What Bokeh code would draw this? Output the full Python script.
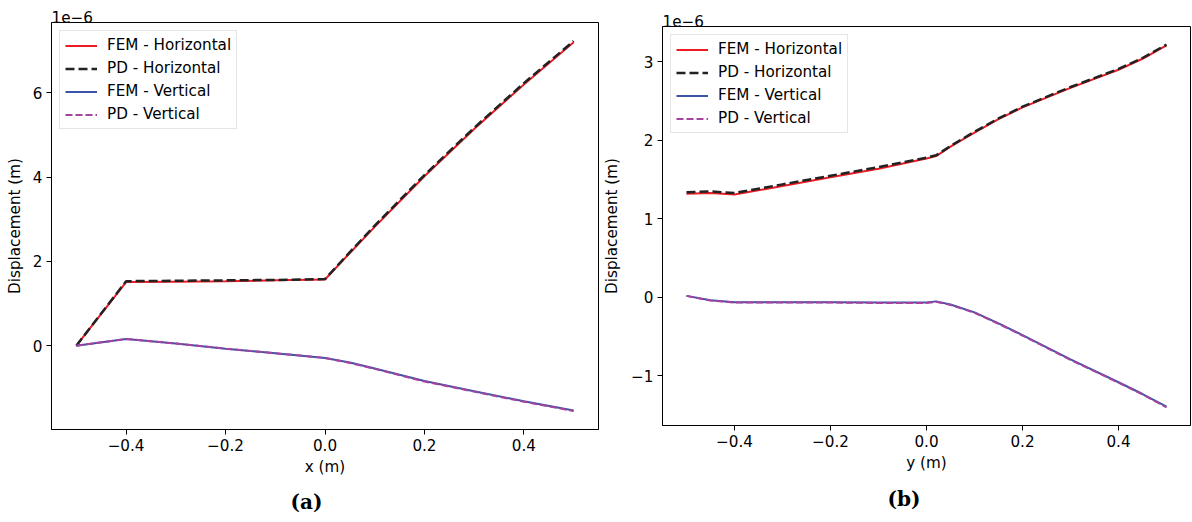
from bokeh.plotting import figure
from bokeh.layouts import row, column
from bokeh.models import Range1d, FixedTicker, CustomJSTickFormatter, Title
from bokeh.embed import file_html
from bokeh.resources import INLINE

# ---------------- data (displacement values in units of 1e-6 m) ----------------
labels = ["FEM - Horizontal", "PD - Horizontal", "FEM - Vertical", "PD - Vertical"]

# Panel (a): displacement along x
xa = [-0.5, -0.4, -0.3, -0.2, -0.1, 0.0, 0.05, 0.1, 0.2, 0.3, 0.4, 0.5]
fem_h_a = [0.00, 1.51, 1.52, 1.53, 1.55, 1.57, 2.20, 2.82, 4.02, 5.14, 6.20, 7.20]
pd_h_a = [0.00, 1.53, 1.54, 1.55, 1.56, 1.58, 2.22, 2.85, 4.05, 5.17, 6.23, 7.23]
fem_v_a = [0.00, 0.16, 0.05, -0.07, -0.18, -0.29, -0.40, -0.54, -0.84, -1.08, -1.32, -1.54]
pd_v_a = [0.00, 0.16, 0.05, -0.07, -0.18, -0.29, -0.41, -0.55, -0.85, -1.09, -1.33, -1.55]

# Panel (b): displacement along y
xb = [-0.5, -0.45, -0.4, -0.3, -0.2, -0.1, 0.0, 0.02, 0.05, 0.1, 0.15, 0.2, 0.3, 0.4, 0.45, 0.5]
fem_h_b = [1.32, 1.33, 1.31, 1.42, 1.53, 1.64, 1.77, 1.80, 1.92, 2.10, 2.27, 2.42, 2.67, 2.90, 3.04, 3.21]
pd_h_b = [1.34, 1.35, 1.33, 1.44, 1.55, 1.66, 1.78, 1.81, 1.93, 2.11, 2.28, 2.43, 2.68, 2.91, 3.05, 3.22]
fem_v_b = [0.02, -0.035, -0.06, -0.06, -0.06, -0.065, -0.065, -0.05, -0.09, -0.19, -0.33, -0.48, -0.79, -1.08, -1.23, -1.39]
pd_v_b = [0.02, -0.04, -0.065, -0.065, -0.065, -0.07, -0.07, -0.055, -0.095, -0.195, -0.335, -0.485, -0.795, -1.085, -1.235, -1.40]

x_ticks = [-0.4, -0.2, 0.0, 0.2, 0.4]
y_ticks_a = [0, 2, 4, 6]
y_ticks_b = [-1, 0, 1, 2, 3]
offset_text = "1e\u22126"

colors = ["#ed1c24", "#222222", "#3b54a6", "#a6439e"]
widths = [2, 2.5, 2, 2]
dashes = ["solid", "9 4", "solid", "7 3"]

FONT = "DejaVu Sans"
FS = "15.2px"
H = 522


def make_panel(x, series, yticks, width, borders, xlabel, caption, cap_offset, cap_standoff, ylab_standoff):
    allv = [v for s in series for v in s]
    lo, hi = min(allv), max(allv)
    pad = 0.05 * (hi - lo)
    xlo, xhi = min(x), max(x)
    xpad = 0.05 * (xhi - xlo)
    left, right, top, bottom = borders
    p = figure(width=width, height=H, output_backend="svg", toolbar_location=None,
               x_range=Range1d(xlo - xpad, xhi + xpad), y_range=Range1d(lo - pad, hi + pad),
               min_border_left=left, min_border_right=right,
               min_border_top=top, min_border_bottom=bottom)
    p.outline_line_color = "black"
    p.outline_line_width = 1
    p.grid.visible = False
    p.background_fill_color = "white"

    for s, lab, c, w, d in zip(series, labels, colors, widths, dashes):
        p.line(x, s, line_color=c, line_width=w, line_dash=d, legend_label=lab)

    p.xaxis.ticker = FixedTicker(ticks=x_ticks)
    p.yaxis.ticker = FixedTicker(ticks=yticks)
    p.xaxis.formatter = CustomJSTickFormatter(code="return tick.toFixed(1).replace('-', '\\u2212');")
    p.yaxis.formatter = CustomJSTickFormatter(code="return tick.toFixed(0).replace('-', '\\u2212');")
    for ax in (p.xaxis, p.yaxis):
        ax.major_label_text_font = FONT
        ax.major_label_text_font_size = FS
        ax.major_label_text_color = "black"
        ax.axis_label_text_font = FONT
        ax.axis_label_text_font_size = FS
        ax.axis_label_text_font_style = "normal"
        ax.axis_label_text_color = "black"
        ax.minor_tick_line_color = None
        ax.major_tick_out = 5
        ax.major_tick_in = 0
        ax.major_tick_line_color = "black"
        ax.axis_line_color = "black"
        ax.major_label_standoff = 4
    p.xaxis.axis_label = xlabel
    p.yaxis.axis_label = "Displacement (m)"
    p.xaxis.axis_label_standoff = 4
    p.yaxis.axis_label_standoff = ylab_standoff

    # matplotlib-style offset text above the frame
    p.title.text = offset_text
    p.title.align = "left"
    p.title.offset = 0
    p.title.standoff = 0
    p.title.text_font = FONT
    p.title.text_font_size = FS
    p.title.text_font_style = "normal"
    p.title.text_color = "black"

    # sub-figure caption
    p.add_layout(Title(text=caption, align="left", offset=cap_offset, standoff=cap_standoff,
                       vertical_align="bottom",
                       text_font="DejaVu Serif", text_font_size="20px",
                       text_font_style="bold", text_color="black"), "below")

    lg = p.legend[0]
    lg.location = "top_left"
    lg.margin = 8
    lg.padding = 5
    lg.spacing = 5
    lg.glyph_width = 32
    lg.glyph_height = 17
    lg.label_height = 17
    lg.label_standoff = 10
    lg.label_text_font = FONT
    lg.label_text_font_size = FS
    lg.label_text_color = "black"
    lg.border_line_color = "#cccccc"
    lg.border_line_width = 1
    lg.background_fill_color = "white"
    lg.background_fill_alpha = 0.8
    return p


pa = make_panel(xa, [fem_h_a, pd_h_a, fem_v_a, pd_v_a], y_ticks_a, 600,
                (51, 2, 22, 92), "x (m)", "(a)", 239, 18, 6)
pb = make_panel(xb, [fem_h_b, pd_h_b, fem_v_b, pd_v_b], y_ticks_b, 592,
                (59, 2, 26, 97), "y (m)", "(b)", 225, 20, 7)

layout = row(column(pa), column(pb))
open("out.html", "w", encoding="utf-8").write(file_html(layout, INLINE))
